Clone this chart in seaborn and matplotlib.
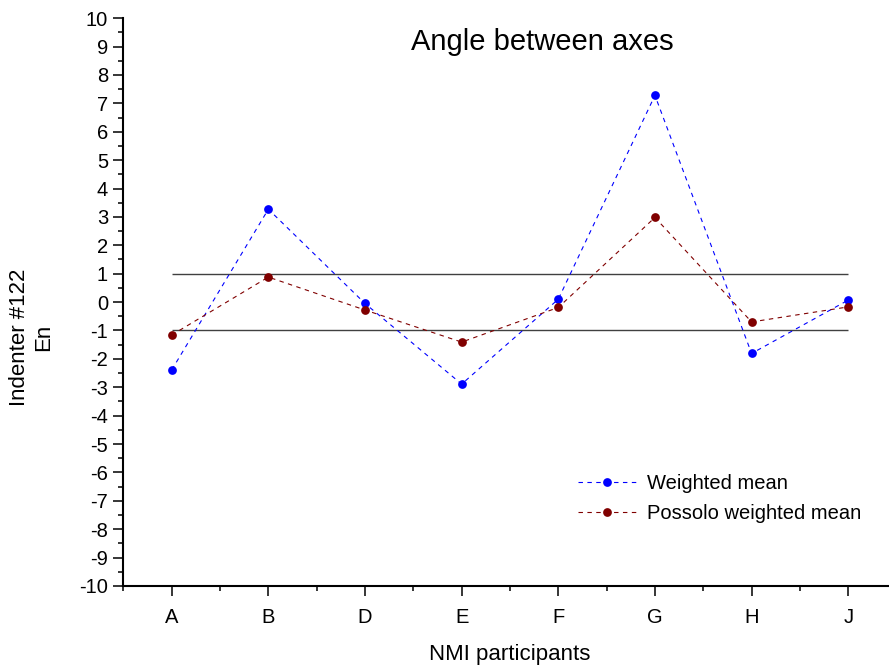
import matplotlib
matplotlib.use("Agg")

import pandas as pd
import matplotlib.pyplot as plt
import seaborn as sns
from matplotlib.ticker import MultipleLocator

# Data
participants = ["A", "B", "D", "E", "F", "G", "H", "J"]
weighted_mean = [-2.39, 3.27, -0.05, -2.89, 0.10, 7.28, -1.81, 0.07]
possolo_mean = [-1.16, 0.88, -0.28, -1.41, -0.19, 2.98, -0.70, -0.17]
limits = [1, -1]

sns.set_style("ticks")
plt.rcParams["font.family"] = ["Liberation Sans", "DejaVu Sans"]
plt.rcParams["axes.unicode_minus"] = False
plt.rcParams["text.color"] = "black"
plt.rcParams["axes.labelcolor"] = "black"
plt.rcParams["xtick.color"] = "black"
plt.rcParams["ytick.color"] = "black"

pos = list(range(len(participants)))
df = pd.DataFrame({
    "pos": pos * 2,
    "En": weighted_mean + possolo_mean,
    "Series": ["Weighted mean"] * len(pos) + ["Possolo weighted mean"] * len(pos),
})

fig = plt.figure(figsize=(8.89, 6.68), dpi=100)
ax = fig.add_axes([0.1388, 0.1228, 0.8697, 0.850])

# En = +/-1 limits
ax.hlines(limits, xmin=0, xmax=len(participants) - 1, colors="#404040", linewidth=1.0, zorder=1)

palette = {"Weighted mean": "#0000FF", "Possolo weighted mean": "#800000"}
for name in ["Weighted mean", "Possolo weighted mean"]:
    sns.lineplot(
        data=df[df["Series"] == name],
        x="pos",
        y="En",
        color=palette[name],
        linestyle=(0, (4, 4)),
        linewidth=0.8,
        marker="o",
        markersize=6.3,
        markeredgewidth=0,
        label=name,
        ax=ax,
        zorder=3,
    )

ax.set_xlim(-0.5, len(participants) - 0.5)
ax.set_ylim(-10, 10)
ax.set_xticks(pos)
ax.set_xticklabels(participants)
ax.set_xticks([p - 0.5 for p in range(len(participants) + 1)], minor=True)
ax.yaxis.set_major_locator(MultipleLocator(1))
ax.yaxis.set_minor_locator(MultipleLocator(0.5))

ax.tick_params(axis="both", which="major", direction="out", length=7, width=1.1,
               labelsize=14.5, pad=4)
ax.tick_params(axis="x", which="major", pad=9)
ax.tick_params(axis="both", which="minor", direction="out", length=3.6, width=1.1)

for side in ["top", "right"]:
    ax.spines[side].set_visible(False)
for side in ["left", "bottom"]:
    ax.spines[side].set_linewidth(1.5)
    ax.spines[side].set_color("black")

ax.set_xlabel("NMI participants", fontsize=16)
ax.xaxis.set_label_coords(0.5, -0.102)
ax.xaxis.label.set_va("top")
ax.set_ylabel("Indenter #122\nEn", fontsize=16, multialignment="center")
ax.yaxis.set_label_coords(-0.089, 0.438)

fig.text(0.61, 0.937, "Angle between axes", fontsize=21, ha="center", va="center")

ax.legend(loc="upper left", bbox_to_anchor=(570 / 889, 1 - 466 / 668),
          bbox_transform=fig.transFigure, frameon=False, fontsize=14.5,
          handlelength=2.9, handletextpad=0.5, labelspacing=0.55,
          borderaxespad=0)

fig.savefig("out.png", dpi=100)
